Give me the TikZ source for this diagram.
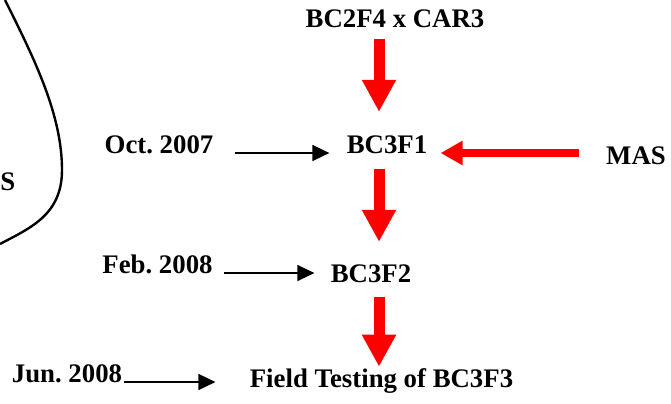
\documentclass[tikz,border=0pt]{standalone}
\usepackage{fontspec}
\setmainfont{Liberation Serif}
\frenchspacing
\usetikzlibrary{arrows.meta}
\tikzset{
	stagestyle/.style={inner sep=0pt, anchor=base, font=\fontsize{13.4}{16}\selectfont\bfseries},
	redstyle/.style={draw=red, line width=5.5pt, -{Triangle[length=16pt, width=16pt]}},
	redsidestyle/.style={draw=red, line width=4pt, -{Triangle[length=11pt, width=11.5pt]}},
	blackstyle/.style={draw=black, line width=0.75pt, -{Triangle[length=8.5pt, width=8pt]}}
}

\begin{document}
\begin{tikzpicture}[x=0.5pt, y=-0.5pt]
	\useasboundingbox (0,0) rectangle (671,403);
	\coordinate (spine) at (379,0);
	\node[stagestyle] (cross) at (395,27) {BC2F4 x CAR3};
	\node[stagestyle] (f1) at (387,153) {BC3F1};
	\node[stagestyle] (f2) at (371,282) {BC3F2};
	\node[stagestyle] (field) at (381.5,387) {Field Testing of BC3F3};
	\node[stagestyle] (mas) at (636,164) {MAS};
	\node[stagestyle] (oct) at (159,153) {Oct. 2007};
	\node[stagestyle] (feb) at (157.5,273) {Feb. 2008};
	\node[stagestyle] (jun) at (67,382) {Jun. 2008};
	\node[stagestyle, anchor=base west] (s) at (0,190) {S};
	% curve on the left
	\draw[line width=1.2pt] (5,0) .. controls (35,60) and (62,115) .. (62,170) .. controls (62,215) and (30,228) .. (0,244);
	\draw[redstyle, shorten <=5.5pt, shorten >=11.5pt] (spine |- cross.south) -- (spine |- f1.north);
	\draw[redstyle, shorten <=7.5pt, shorten >=11pt] (spine |- f1.south) -- (spine |- f2.north);
	\draw[redstyle, shorten <=7pt, shorten >=0.5pt] (spine |- f2.south) -- (spine |- field.north);
	\draw[redsidestyle, shorten <=13.5pt, shorten >=6.5pt] (mas.west |- f1.base) -- (f1.base east);
	\draw[blackstyle, shorten <=10.5pt, shorten >=8.5pt] (oct.base east) -- (f1.base west);
	\draw[blackstyle, shorten <=5.5pt, shorten >=8pt] (feb.base east) -- (feb.base -| f2.west);
	\draw[blackstyle, shorten <=0.5pt, shorten >=17pt] (jun.base east) -- (jun.base -| field.west);
\end{tikzpicture}
\end{document}
